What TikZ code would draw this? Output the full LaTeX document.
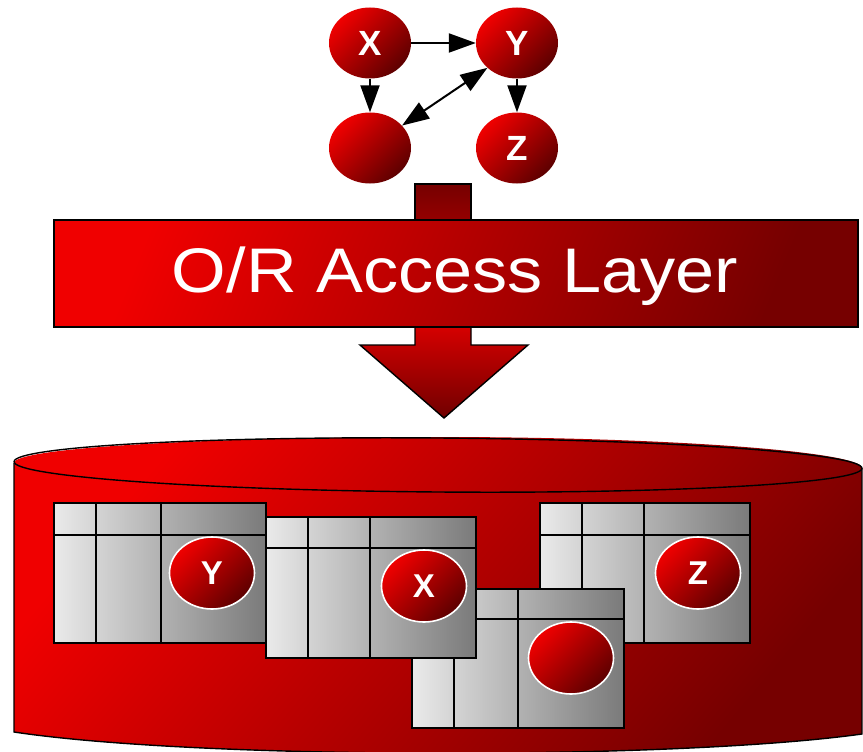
\documentclass[tikz,border=0pt]{standalone}
\usepackage{fontspec}
\setmainfont{Liberation Sans}
\usetikzlibrary{shapes.geometric,arrows.meta}
\definecolor{rbright}{RGB}{240,0,0}
\definecolor{rmid}{RGB}{185,0,0}
\definecolor{rdark}{RGB}{118,0,0}
\definecolor{stemred}{RGB}{150,0,0}
\definecolor{gLight}{RGB}{234,234,234}
\definecolor{gDark}{RGB}{122,122,122}
\tikzset{
  redball/.style={ellipse, inner sep=0pt, top color=rbright, bottom color=rdark!120!rbright,
    shading angle=45, text=white},
  topball/.style={redball, minimum width=82pt, minimum height=71pt,
    font=\bfseries\fontsize{35}{35}\selectfont},
  tblball/.style={redball, draw=white, line width=1.6pt, minimum width=85pt,
    minimum height=72pt, font=\bfseries\fontsize{33}{33}\selectfont},
  link/.style={line width=2pt, -{Triangle[length=27pt,width=19pt]}},
  duallink/.style={line width=2pt, {Triangle[length=27pt,width=19pt]}-{Triangle[length=27pt,width=19pt]}},
  outline/.style={draw=black, line width=1.4pt},
  tblfill/.style={left color=gLight, right color=gDark},
  grid/.style={line width=1.4pt}
}
\newcommand{\dbtab}[7]{%
  \fill[tblfill] (#1,#2) rectangle (#3,#4);
  \draw[grid] (#1,#5) -- (#3,#5) (#6,#2) -- (#6,#4) (#7,#2) -- (#7,#4);
  \draw[outline] (#1,#2) rectangle (#3,#4);
}
\begin{document}
\begin{tikzpicture}[x=1pt,y=-1pt]
\useasboundingbox (0,0) rectangle (863,752);

% ---- top graph
\node[topball] (X) at (370,43) {X};
\node[topball] (Y) at (517,43) {Y};
\node[topball] (B) at (370,148) {};
\node[topball] (Z) at (517,148) {Z};
\draw[link] (X) -- (Y);
\draw[link] (X) -- (B);
\draw[link] (Y) -- (Z);
\draw[duallink] (B.35) -- (Y.220);

% ---- arrow through the access layer
\draw[outline, top color=rdark, bottom color=stemred] (415,184) rectangle (471,222);
\draw[outline, top color=rbright!92!black, bottom color=rdark!95!black]
  (415,320) -- (415,345) -- (360,345) -- (444,418) -- (528,345) -- (471,345) -- (471,320) -- cycle;

% ---- access layer band
\draw[outline, top color=rbright, bottom color=rdark, shading angle=68] (54,220) rectangle (858,327);
\node[anchor=base, inner sep=0pt, text=white, font=\fontsize{63}{63}\selectfont, xscale=1.115]
  (title) at (455,292) {O/R Access Layer};

% ---- database cylinder
\path[top color=rbright, bottom color=rdark, shading angle=50]
  (14,463) -- (14,732) .. controls (200,760) and (676,760) .. (862,734) -- (862,468)
  .. controls (862,452) and (672,437) .. (438,437) .. controls (204,437) and (14,448) .. (14,463) -- cycle;
\draw[outline] (14,463) -- (14,732) .. controls (200,760) and (676,760) .. (862,734) -- (862,468);
\draw[outline, rotate around={-0.45:(438,465)}] (438,465) ellipse [x radius=424, y radius=27];

% ---- tables
\dbtab{54}{503}{266}{643}{535}{96}{161}
\node[tblball] (tY) at (212,573) {Y};
\dbtab{540}{503}{750}{643}{535}{582}{644}
\node[tblball] (tZ) at (698,573) {Z};
\dbtab{412}{589}{624}{728}{619}{454}{518}
\node[tblball] (tB) at (571,658) {};
\dbtab{266}{517}{476}{658}{548}{308}{370}
\node[tblball] (tX) at (424,586) {X};
\end{tikzpicture}
\end{document}
